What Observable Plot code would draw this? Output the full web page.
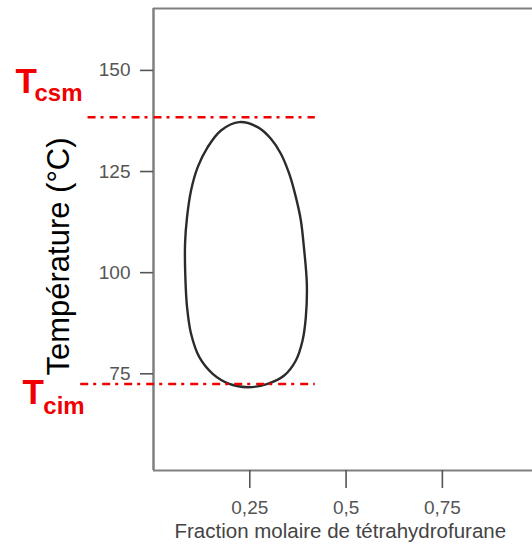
<!DOCTYPE html>
<html><head><meta charset="utf-8">
<script src="https://cdn.jsdelivr.net/npm/d3@7"></script>
<script src="https://cdn.jsdelivr.net/npm/@observablehq/plot@0.6"></script>
<style>
body{margin:0;background:#fff;}
#chart svg{font-family:"Liberation Sans",Arial,sans-serif;background:#fff;}
</style>
</head><body><div id="chart"></div>
<script>
// Closed miscibility loop (fraction molaire THF, température °C)
const loopX = [0.2227,0.2703,0.3048,0.3307,0.3523,0.3696,0.3826,0.3896,0.3981,0.3955,0.3870,0.3696,0.3393,0.2963,0.2444,0.1967,0.1537,0.1190,0.0975,0.0871,0.0827,0.0819,0.0871,0.0975,0.1148,0.1407,0.1752];
const loopY = [137.22,135.98,133.11,129.40,124.46,118.67,112.91,107.15,97.25,89.00,83.24,78.29,74.58,72.53,71.69,72.53,75.00,79.11,84.89,91.47,98.89,107.15,113.72,120.33,126.09,131.03,135.16];

const xTicks = [0.25, 0.5, 0.75];
const yTicks = [75, 100, 125, 150];
const xDomain = [0, 0.984];
const yDomain = [51.1, 165.3];

// Critical temperatures (upper = csm, lower = cim)
const limitNames = ["csm", "cim"];
const limitTemps = [138.4, 72.5];
const limitStart = [-0.170, -0.189];
const limitEnd = [0.420, 0.420];
const labelX = [-0.358, -0.340];
const subX = [-0.309, -0.286];

const xLabel = "Fraction molaire de tétrahydrofurane";
const yLabel = "Température (°C)";

const loop = loopX.map((x, i) => ({x, y: loopY[i]}));
const limits = limitNames.map((n, i) => ({name: n, t: limitTemps[i], x1: limitStart[i], x2: limitEnd[i], lx: labelX[i], sx: subX[i]}));
const tDy = [-35.6, 8.8];
const sDy = [-24.1, 22.3];

const red = "#f00000";
const fmt = d => String(d).replace(".", ",");

const marks = [
  Plot.ruleY(yDomain, {stroke: "#808080", strokeWidth: 2}),
  Plot.ruleX([xDomain[0]], {stroke: "#808080", strokeWidth: 2.5}),
  Plot.axisY(yTicks, {tickSize: 13, tickPadding: 10, fontSize: 19, color: "#555", strokeWidth: 1.6, label: null}),
  Plot.axisX(xTicks, {tickSize: 18, tickPadding: 12, fontSize: 19, color: "#555", strokeWidth: 1.6, tickFormat: fmt, label: null}),
  Plot.line(loop, {x: "x", y: "y", curve: "catmull-rom-closed", stroke: "#2b2b2b", strokeWidth: 2.4}),
  Plot.ruleY(limits, {y: "t", x1: "x1", x2: "x2", stroke: red, strokeWidth: 2.5, strokeDasharray: "8,5,3,6"}),
  Plot.text([xLabel], {x: () => 0.485, frameAnchor: "bottom", dy: 61, fontSize: 20.5, fill: "#444", textAnchor: "middle", lineAnchor: "middle"}),
  Plot.text([yLabel], {x: () => -0.246, y: () => 104, rotate: -90, fontSize: 31, fill: "#000", textAnchor: "middle", lineAnchor: "middle"})
];
limits.forEach((l, i) => {
  marks.push(Plot.text([l], {x: "lx", y: "t", text: () => "T", dy: tDy[i], fontSize: 35, fontWeight: "bold", fill: red, textAnchor: "start", lineAnchor: "middle"}));
  marks.push(Plot.text([l], {x: "sx", y: "t", text: "name", dy: sDy[i], fontSize: 24, fontWeight: "bold", fill: red, textAnchor: "start", lineAnchor: "middle"}));
});

const chart = Plot.plot({
  width: 532,
  height: 550,
  marginLeft: 153,
  marginRight: 0,
  marginTop: 8,
  marginBottom: 80,
  x: {domain: xDomain},
  y: {domain: yDomain},
  marks
});
document.getElementById("chart").append(chart);
</script>
</body></html>
